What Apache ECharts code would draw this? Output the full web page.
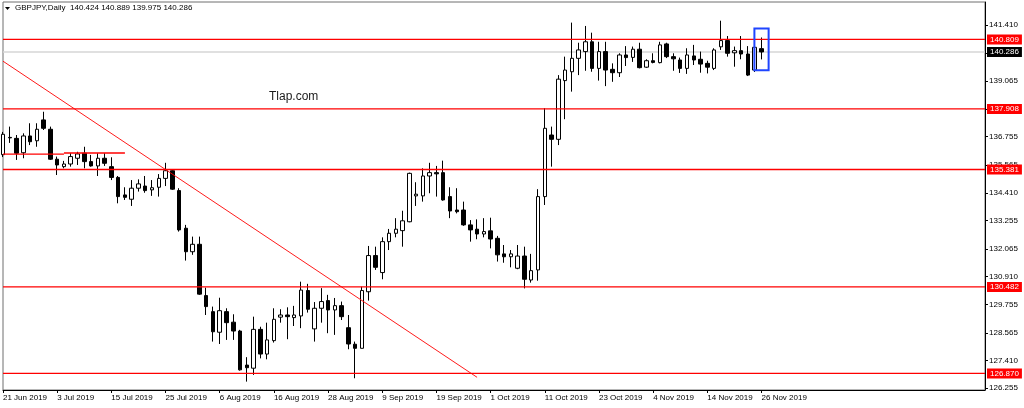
<!DOCTYPE html>
<html>
<head>
<meta charset="utf-8">
<title>GBPJPY Daily</title>
<script src="https://cdn.jsdelivr.net/npm/echarts@6/dist/echarts.min.js"></script>
<style>
html, body { margin: 0; padding: 0; background: #fff; }
#main { width: 1024px; height: 408px; }
</style>
</head>
<body>
<div id="main"></div>
<script>
// daily bars, 21 Jun 2019 .. 26 Nov 2019
var opens = [
  136.00, 136.72, 136.68, 136.08, 136.78, 136.58, 137.45, 137.06, 135.81, 135.50,
  135.61, 135.85, 136.06, 135.71, 135.53, 135.85, 135.50, 135.05, 134.32, 134.14,
  134.60, 134.69, 134.53, 134.64, 135.01, 135.33, 134.50, 132.93, 131.95, 132.26,
  130.12, 129.45, 128.59, 129.45, 129.01, 128.64, 127.22, 127.09, 128.71, 127.68,
  128.24, 129.22, 129.31, 129.20, 129.27, 130.33, 128.73, 129.59, 129.91, 129.52,
  129.70, 128.78, 128.09, 127.92, 130.28, 131.79, 131.08, 132.37, 132.72, 132.83,
  133.20, 134.28, 134.28, 135.11, 135.25, 135.25, 134.25, 133.69, 133.69, 133.07,
  132.89, 132.69, 132.82, 132.51, 131.86, 131.74, 131.26, 131.77, 130.77, 131.19,
  134.25, 136.82, 136.64, 139.09, 139.46, 140.02, 140.30, 140.71, 139.60, 140.30,
  139.56, 139.42, 140.16, 140.06, 140.40, 139.65, 139.92, 139.84, 140.62, 140.09,
  139.95, 139.60, 140.12, 139.98, 139.81, 139.60, 140.50, 140.76, 140.25, 140.34,
  140.20, 139.53, 140.424
];
var closes = [
  136.85, 136.70, 136.06, 136.78, 136.54, 137.06, 137.10, 135.81, 135.57, 135.61,
  135.92, 136.03, 135.71, 135.53, 135.85, 135.64, 135.05, 134.25, 134.22, 134.60,
  134.78, 134.50, 134.62, 135.01, 135.33, 134.56, 132.86, 131.95, 132.26, 130.18,
  129.66, 128.61, 129.49, 128.99, 128.64, 127.02, 127.11, 128.71, 127.68, 128.27,
  129.13, 129.31, 129.24, 129.31, 130.35, 129.55, 129.59, 129.87, 129.52, 129.70,
  129.24, 128.10, 127.92, 130.33, 131.79, 131.30, 132.37, 132.72, 132.89, 133.24,
  135.22, 134.35, 135.11, 135.25, 135.20, 134.11, 133.65, 133.62, 133.07, 132.86,
  132.69, 132.79, 132.48, 131.82, 131.74, 131.86, 131.77, 130.80, 131.16, 134.25,
  137.10, 136.64, 139.15, 139.53, 140.02, 140.37, 140.71, 139.60, 140.30, 139.53,
  139.42, 140.16, 140.05, 140.40, 139.63, 139.92, 139.85, 140.58, 140.09, 140.00,
  139.60, 140.16, 139.95, 139.78, 139.65, 140.37, 140.76, 140.23, 140.34, 140.20,
  139.32, 140.48, 140.286
];
var lows = [
  135.90, 136.49, 135.78, 135.85, 136.40, 136.33, 137.03, 135.78, 135.15, 135.43,
  135.50, 135.57, 135.43, 135.50, 135.11, 135.53, 134.94, 133.97, 134.11, 133.86,
  134.46, 134.41, 134.28, 134.25, 134.69, 134.53, 132.79, 131.58, 131.82, 130.15,
  129.31, 128.20, 128.10, 128.27, 128.27, 126.99, 126.53, 126.81, 127.50, 127.46,
  128.16, 128.99, 128.30, 128.85, 128.76, 129.41, 128.20, 128.99, 128.55, 128.48,
  129.10, 127.88, 126.67, 127.92, 129.91, 131.19, 130.80, 132.02, 132.55, 132.16,
  133.18, 133.86, 134.04, 134.39, 134.25, 134.08, 133.35, 133.55, 133.03, 132.37,
  132.47, 132.55, 132.09, 131.54, 131.49, 131.30, 131.22, 130.42, 130.66, 130.74,
  133.90, 135.50, 136.40, 137.48, 138.63, 139.32, 139.50, 139.46, 139.09, 138.86,
  139.04, 139.24, 139.70, 139.87, 139.60, 139.62, 139.81, 139.81, 140.03, 139.50,
  139.41, 139.37, 139.74, 139.42, 139.39, 139.53, 140.37, 140.09, 139.67, 139.98,
  139.28, 139.45, 139.975
];
var highs = [
  136.95, 137.17, 136.82, 136.89, 137.31, 137.31, 137.79, 137.17, 135.92, 135.74,
  136.06, 136.12, 136.33, 135.99, 136.06, 136.06, 135.89, 135.11, 134.64, 134.94,
  134.97, 135.11, 134.94, 135.19, 135.66, 135.39, 134.60, 133.07, 132.58, 132.58,
  130.45, 129.66, 130.03, 129.59, 129.34, 128.69, 127.55, 129.24, 128.82, 128.99,
  129.59, 129.55, 129.63, 129.69, 130.70, 130.61, 129.85, 130.43, 130.15, 130.02,
  129.87, 129.31, 128.20, 130.49, 132.19, 132.16, 132.55, 132.90, 133.35, 133.66,
  135.25, 134.85, 135.43, 135.66, 135.53, 135.75, 134.64, 134.60, 134.04, 133.27,
  133.30, 133.35, 133.37, 132.61, 132.23, 132.02, 132.23, 132.16, 131.86, 134.56,
  137.94, 137.17, 139.32, 140.09, 141.51, 140.67, 141.37, 141.09, 140.71, 140.71,
  139.81, 140.23, 140.53, 140.51, 140.67, 139.98, 140.23, 140.71, 140.67, 140.23,
  140.05, 140.44, 140.58, 140.30, 139.92, 140.44, 141.59, 140.95, 140.51, 140.95,
  140.53, 140.52, 140.889
];

var tickLabels = [
  '21 Jun 2019', '3 Jul 2019', '15 Jul 2019', '25 Jul 2019', '6 Aug 2019',
  '16 Aug 2019', '28 Aug 2019', '9 Sep 2019', '19 Sep 2019', '1 Oct 2019',
  '11 Oct 2019', '23 Oct 2019', '4 Nov 2019', '14 Nov 2019', '26 Nov 2019'
];
var priceTicks = [
  126.255, 127.410, 128.565, 129.755, 130.910, 132.065, 133.255,
  134.410, 135.565, 136.755, 137.910, 139.065, 140.220, 141.410
];
var levels = [140.809, 137.908, 135.381, 130.482, 126.870];
var lastPrice = 140.286;
var trendLine = [[0, 139.90], [70, 126.71]];
var rangeLines = [
  [[0, 136.02], [9, 136.02]],
  [[9, 136.07], [18, 136.07]]
];
var highlightBox = [[112, 141.26, 139.52]];

var barsPerTick = 8;
var emptySlots = 33; // free space right of the last bar

var FONT = 'Liberation Sans, Arial, sans-serif';
var RED = '#ff0000';
var BID_GREY = '#d6d6d6';

var categories = [];
for (var i = 0; i < opens.length + emptySlots; i++) categories.push(String(i));
var lastSlot = categories.length - 1;

var ohlc = opens.map(function (o, i) {
  return [o, closes[i], lows[i], highs[i]];
});

function isTick(index) {
  return index % barsPerTick === 0 && index / barsPerTick < tickLabels.length;
}

// drawn lines: [x0, y0, x1, y1]
var redSegments = levels.map(function (v) { return [0, v, lastSlot, v]; });
redSegments.push([trendLine[0][0], trendLine[0][1], trendLine[1][0], trendLine[1][1]]);
rangeLines.forEach(function (s) { redSegments.push([s[0][0], s[0][1], s[1][0], s[1][1]]); });
var bidSegment = [[0, lastPrice, lastSlot, lastPrice]];

// flat lines a little heavier so they stay visibly coloured
function lineRenderer(color, flatWidth, slopeWidth) {
  return function (params, api) {
    var a = api.coord([api.value(0), api.value(1)]);
    var b = api.coord([api.value(2), api.value(3)]);
    var flat = Math.abs(a[1] - b[1]) < 0.5;
    return {
      type: 'line',
      shape: { x1: a[0], y1: a[1], x2: b[0], y2: b[1] },
      style: { stroke: color, lineWidth: flat ? flatWidth : slopeWidth, fill: null }
    };
  };
}

// price box sitting on the right axis
function priceBox(v, boxColor) {
  return {
    coord: [lastSlot, v],
    value: v,
    symbol: 'rect',
    symbolSize: 0,
    label: {
      show: true, position: 'right', distance: 2,
      formatter: v.toFixed(3),
      color: '#fff', backgroundColor: boxColor,
      fontFamily: FONT, fontSize: 8, lineHeight: 9, padding: [1, 3, 0, 3]
    }
  };
}
var boxes = levels.map(function (v) { return priceBox(v, RED); });
boxes.push(priceBox(lastPrice, '#000'));

var myChart = echarts.init(document.getElementById('main'));

var option = {
  animation: false,
  backgroundColor: '#fff',
  grid: {
    left: 2, top: 2, right: 39, bottom: 18,
    show: true, borderColor: '#6e6e6e', borderWidth: 1, backgroundColor: '#fff'
  },
  graphic: [
    {
      type: 'polygon', shape: { points: [[5, 7], [10, 7], [7.5, 10]] },
      style: { fill: '#000' }
    },
    {
      type: 'text', left: 15, top: 4,
      style: {
        text: 'GBPJPY,Daily  140.424 140.889 139.975 140.286',
        font: '8px ' + FONT, fill: '#000'
      }
    },
    {
      type: 'text', left: 269, top: 91,
      style: { text: 'Tlap.com', font: '12px ' + FONT, fill: '#1a1a1a' }
    }
  ],
  xAxis: {
    type: 'category',
    data: categories,
    boundaryGap: false,
    axisLine: { show: true, lineStyle: { color: '#000', width: 1 } },
    axisTick: {
      show: true, length: 3,
      interval: function (index) { return isTick(index); },
      lineStyle: { color: '#000' }
    },
    axisLabel: {
      show: true,
      interval: function (index) { return isTick(index); },
      formatter: function (val, index) { return tickLabels[index / barsPerTick]; },
      align: 'left', margin: 4,
      color: '#000', fontFamily: FONT, fontSize: 8
    },
    splitLine: { show: false }
  },
  yAxis: {
    type: 'value',
    position: 'right',
    min: 126.18,
    max: 142.37,
    axisLine: { show: true, lineStyle: { color: '#000', width: 1 } },
    axisTick: {
      show: true, length: 3, customValues: priceTicks,
      lineStyle: { color: '#000' }
    },
    axisLabel: {
      show: true, customValues: priceTicks, margin: 4,
      formatter: function (v) { return v.toFixed(3); },
      color: '#000', fontFamily: FONT, fontSize: 8
    },
    splitLine: { show: false }
  },
  series: [
    {
      // bid line, behind the candles
      type: 'custom',
      data: bidSegment,
      silent: true,
      clip: false,
      z: 1,
      renderItem: lineRenderer(BID_GREY, 1.5, 1)
    },
    {
      type: 'candlestick',
      data: ohlc,
      barWidth: 4,
      z: 3,
      itemStyle: {
        color: '#fff', color0: '#000',
        borderColor: '#000', borderColor0: '#000', borderColorDoji: '#000',
        borderWidth: 1
      }
    },
    {
      // support / resistance levels and trend line
      type: 'custom',
      data: redSegments,
      silent: true,
      clip: false,
      z: 4,
      renderItem: lineRenderer(RED, 1.3, 0.9)
    },
    {
      // price boxes on the axis
      type: 'line',
      data: [],
      z: 6,
      markPoint: {
        silent: true,
        animation: false,
        data: boxes
      }
    },
    {
      type: 'custom',
      data: highlightBox,
      silent: true,
      z: 5,
      renderItem: function (params, api) {
        var top = api.coord([api.value(0), api.value(1)]);
        var bottom = api.coord([api.value(0), api.value(2)]);
        var w = api.size([1, 0])[0] * 2.1;
        return {
          type: 'rect',
          shape: { x: top[0] - w / 2, y: top[1], width: w, height: bottom[1] - top[1] },
          style: { fill: 'none', stroke: '#1f45ff', lineWidth: 2 }
        };
      }
    }
  ]
};
myChart.setOption(option);
</script>
</body>
</html>
